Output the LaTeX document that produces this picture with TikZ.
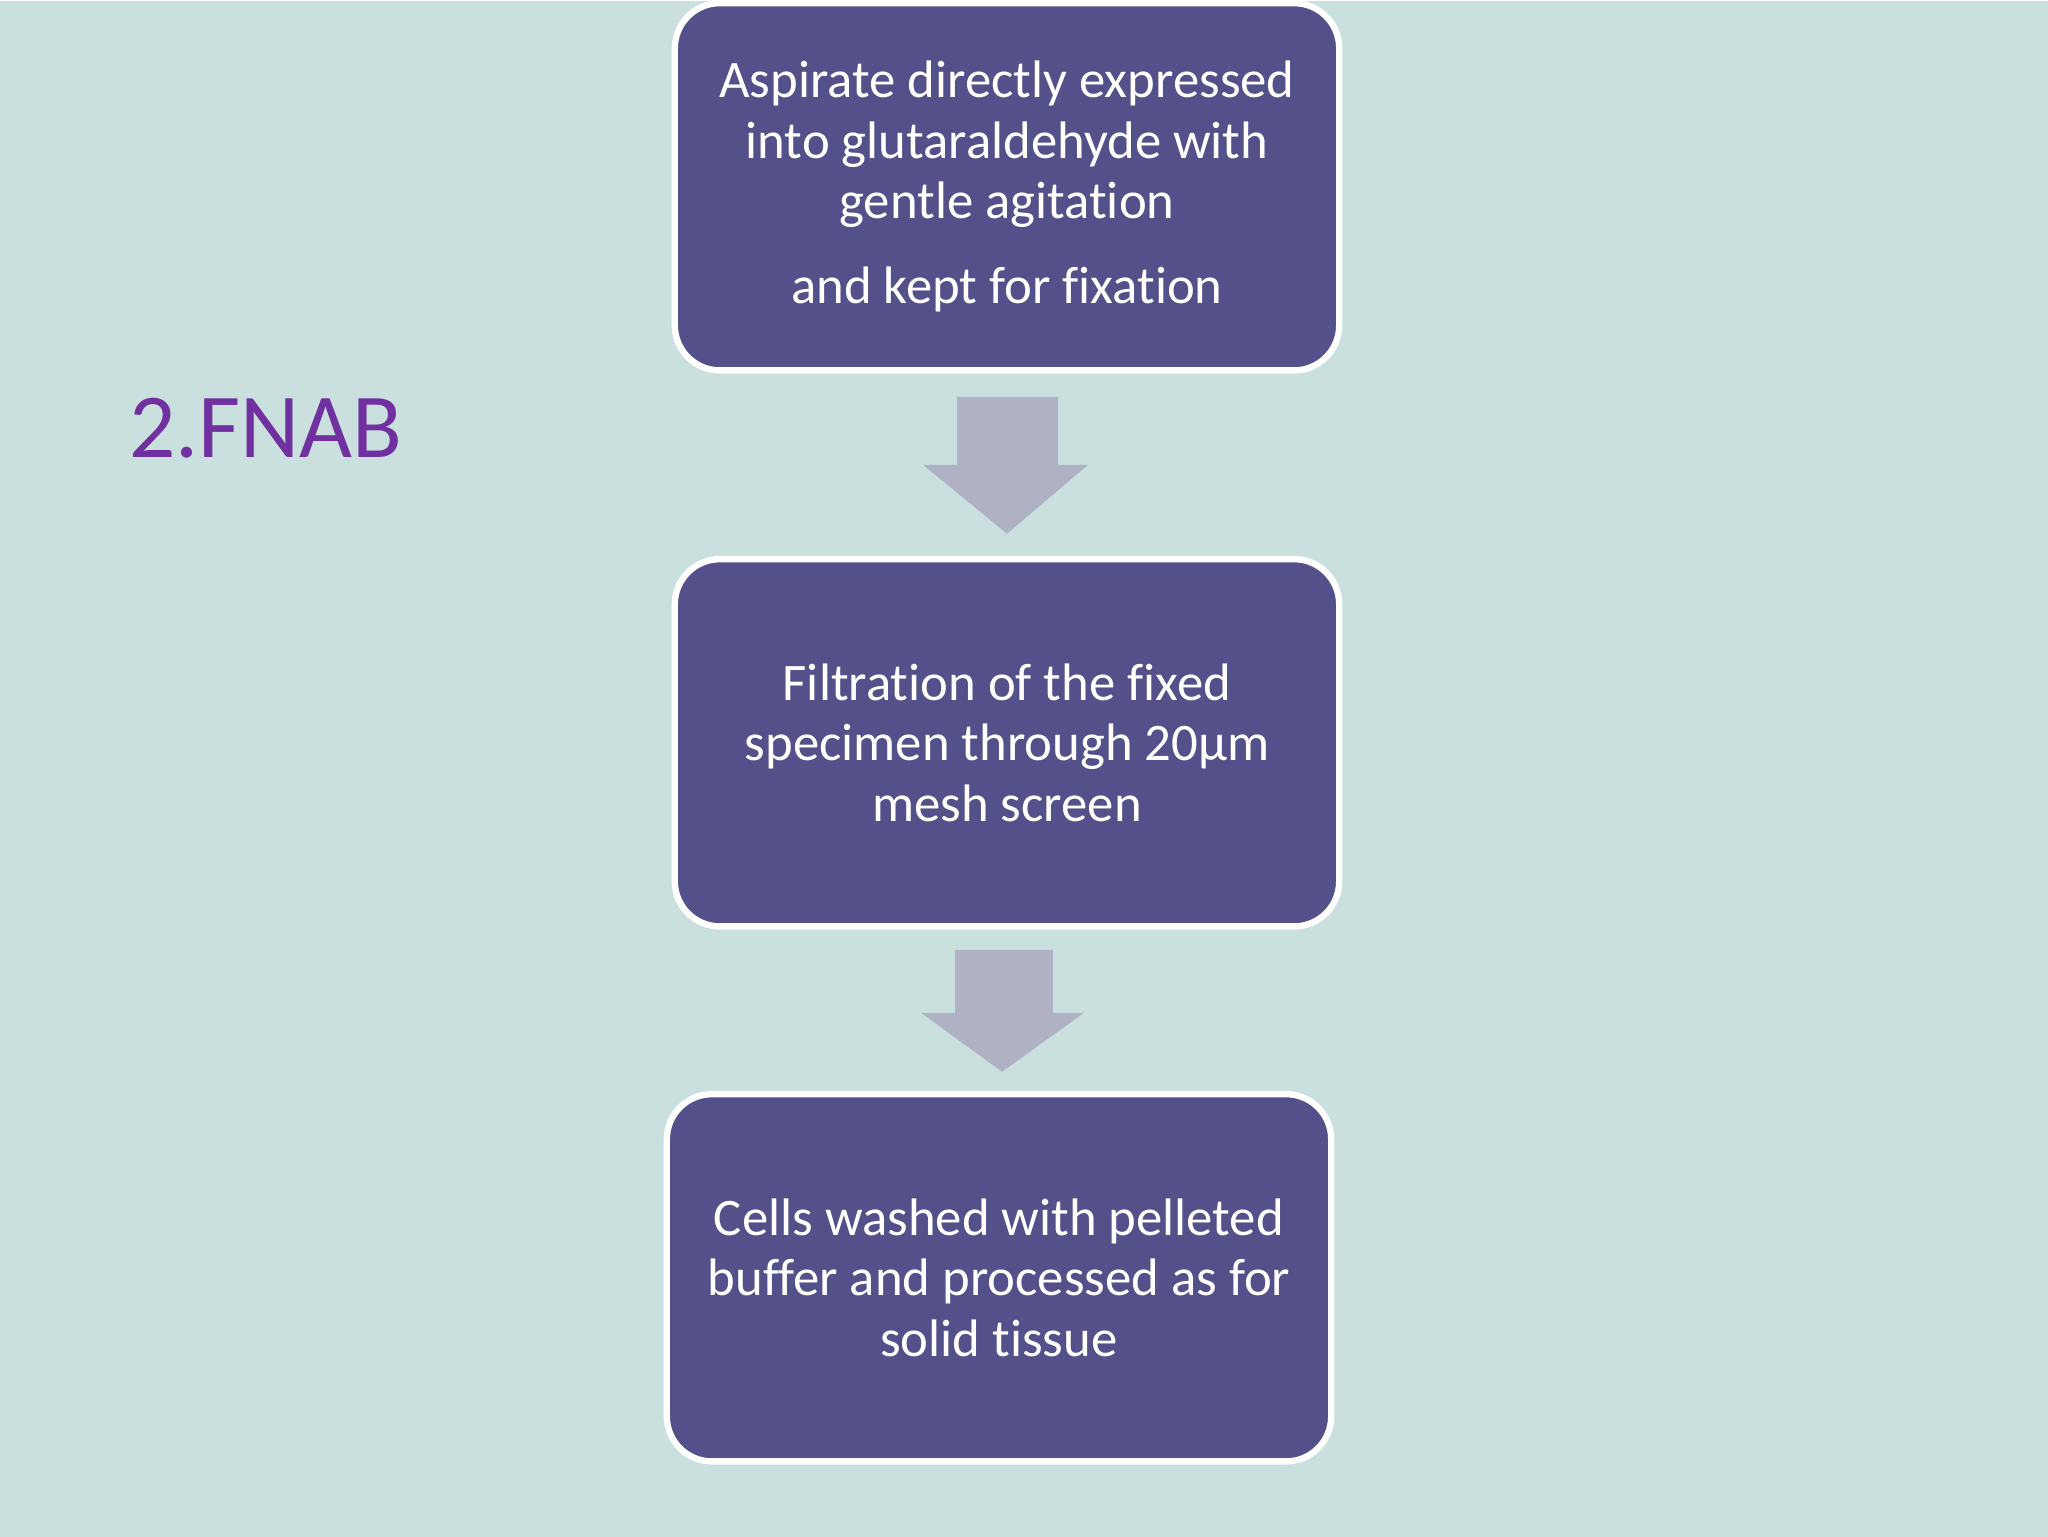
\documentclass[tikz,border=0pt]{standalone}
\usepackage{fontspec}
\setmainfont{Carlito}[Ligatures={NoCommon}]
\begin{document}
\begin{tikzpicture}[x=0.01cm,y=-0.01cm,
  box/.style={draw=white,line width=1.8pt,fill=boxc,rounded corners=0.45cm,minimum width=6.64cm,minimum height=3.67cm,text=white,align=center,font=\fontsize{15}{17.2}\selectfont},
  arr/.style={fill=arrc,draw=none}]
\definecolor{bg}{HTML}{C9E0DE}
\definecolor{boxc}{HTML}{54508A}
\definecolor{arrc}{HTML}{B1B1C6}
\definecolor{tit}{HTML}{7030A0}
\fill[bg] (0,0) rectangle (2048,1536);
\node[box] (b1) at (1007,186) {Aspirate directly expressed\\into glutaraldehyde with\\gentle agitation\\[7pt]and kept for fixation};
\node[box] (b2) at (1007,742) {Filtration of the fixed\\specimen through 20µm\\mesh screen};
\node[box] (b3) at (999,1277) {Cells washed with pelleted\\buffer and processed as for\\solid tissue};
\fill[arr] (957,396) -- (1058,396) -- (1058,464) -- (1088,464) -- (1007,533) -- (923,464) -- (957,464) -- cycle;
\fill[arr] (955,949) -- (1053,949) -- (1053,1012) -- (1084,1012) -- (1002,1071) -- (921,1012) -- (955,1012) -- cycle;
\node[text=tit,font=\fontsize{26}{30}\selectfont,anchor=west] (t) at (117,427) {2.FNAB};
\end{tikzpicture}
\end{document}
